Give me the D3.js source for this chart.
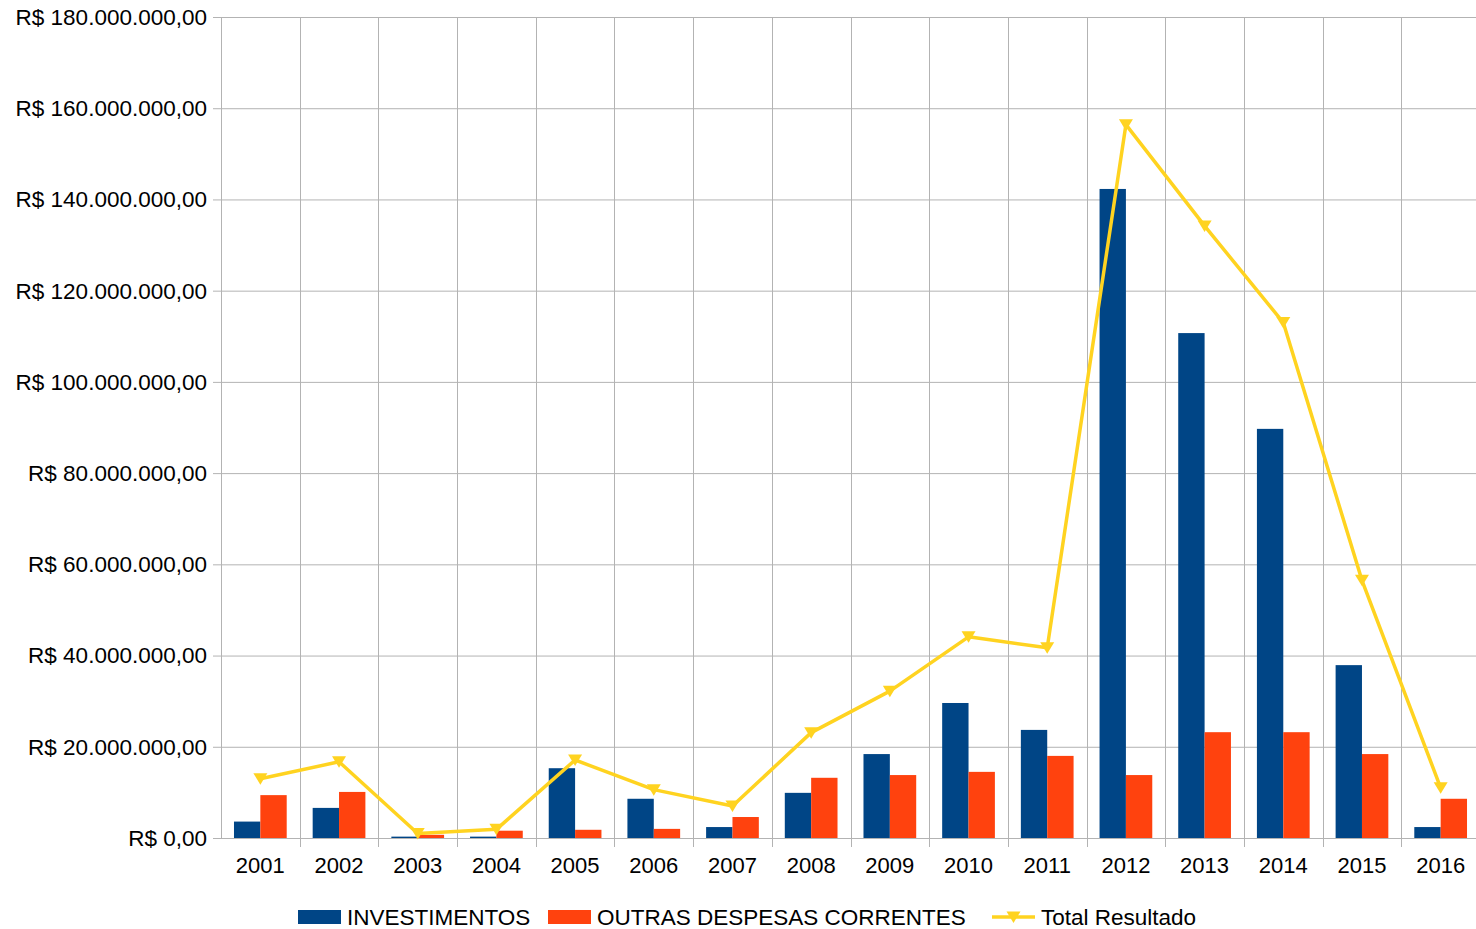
<!DOCTYPE html>
<html>
<head>
<meta charset="utf-8">
<script src="https://cdn.jsdelivr.net/npm/d3@7"></script>
<style>
  body { margin: 0; background: #fff; overflow: hidden; }
  text { font-family: "Liberation Sans", Arial, sans-serif; fill: #000; }
</style>
</head>
<body>
<div id="chart-container"></div>
<script>
// chart data (R$)
const years = ["2001","2002","2003","2004","2005","2006","2007","2008",
  "2009","2010","2011","2012","2013","2014","2015","2016"];
const investimentos = [3.6e6, 6.6e6, 0.3e6, 0.3e6, 15.3e6, 8.6e6, 2.4e6, 9.9e6,
  18.4e6, 29.6e6, 23.7e6, 142.3e6, 110.7e6, 89.7e6, 37.9e6, 2.4e6];
const outrasDespesas = [9.4e6, 10.1e6, 0.7e6, 1.6e6, 1.8e6, 2.0e6, 4.6e6, 13.2e6,
  13.8e6, 14.5e6, 18.0e6, 13.8e6, 23.2e6, 23.2e6, 18.4e6, 8.6e6];
const totalResultado = [13.0e6, 16.7e6, 1.0e6, 1.9e6, 17.1e6, 10.6e6, 7.0e6, 23.1e6,
  32.2e6, 44.1e6, 41.7e6, 156.4e6, 134.2e6, 113.0e6, 56.5e6, 11.0e6];
const yTicks = [0, 20e6, 40e6, 60e6, 80e6, 100e6, 120e6, 140e6, 160e6, 180e6];
const seriesNames = ["INVESTIMENTOS", "OUTRAS DESPESAS CORRENTES", "Total Resultado"];
const colors = ["#004586", "#ff420e", "#ffd320"];

const W = 1476, H = 929;
const margin = { top: 17, left: 221 };
const width = 1259;   // plot runs a little past the window edge
const height = 821;

const svg = d3.select("#chart-container").append("svg")
  .attr("width", W).attr("height", H)
  .style("display", "block");
const g = svg.append("g").attr("transform", `translate(${margin.left},${margin.top})`);

const x = d3.scaleBand().domain(years).range([0, width]);
const bw = x.bandwidth();
const gap = bw * 0.165;
const x1 = d3.scaleBand().domain([0, 1]).range([gap, bw - gap]);
const y = d3.scaleLinear().domain([0, 180e6]).range([height, 0]);

// number format pt-BR
const fmt = v => "R$ " + d3.format(",.2f")(v).replace(/,/g, "#").replace(".", ",").replace(/#/g, ".");

// horizontal grid
g.append("g").selectAll("line").data(yTicks).join("line")
  .attr("x1", -8).attr("x2", width)
  .attr("y1", d => y(d) + 0.5).attr("y2", d => y(d) + 0.5)
  .attr("stroke", "#b3b3b3").attr("stroke-width", 1);

// vertical grid (category boundaries)
const bounds = years.map(d => x(d));
g.append("g").selectAll("line").data(bounds).join("line")
  .attr("x1", d => Math.round(d) + 0.5).attr("x2", d => Math.round(d) + 0.5)
  .attr("y1", 0).attr("y2", d => d === 0 ? height + 1 : height + 9)
  .attr("stroke", "#b3b3b3").attr("stroke-width", 1);

// y labels
g.append("g").selectAll("text").data(yTicks).join("text")
  .attr("x", -14).attr("y", d => y(d)).attr("dy", "0.35em")
  .attr("text-anchor", "end").style("font-size", "22.5px")
  .text(fmt);

// x labels
g.append("g").selectAll("text").data(years).join("text")
  .attr("x", d => x(d) + bw / 2).attr("y", height + 35)
  .attr("text-anchor", "middle").style("font-size", "22px")
  .text(d => d);

// bars
const barData = years.map((yr, i) => [
  { yr, s: 0, v: investimentos[i] },
  { yr, s: 1, v: outrasDespesas[i] }
]).flat();
g.append("g").selectAll("rect").data(barData).join("rect")
  .attr("x", d => x(d.yr) + x1(d.s))
  .attr("width", x1.bandwidth())
  .attr("y", d => y(d.v))
  .attr("height", d => height - y(d.v))
  .attr("fill", d => colors[d.s]);

// total line
const line = d3.line()
  .x((d, i) => x(years[i]) + bw / 2)
  .y(d => y(d));
g.append("path").datum(totalResultado)
  .attr("d", line)
  .attr("fill", "none")
  .attr("stroke", colors[2])
  .attr("stroke-width", 3.5)
  .attr("stroke-linejoin", "round");

const tri = "M-7,-5.5L7,-5.5L0,6Z";
g.append("g").selectAll("path").data(totalResultado).join("path")
  .attr("transform", (d, i) => `translate(${x(years[i]) + bw / 2},${y(d)})`)
  .attr("d", tri)
  .attr("fill", colors[2]);

// legend
const legendY = 917;
const legendItems = [
  { x: 298, text: seriesNames[0], c: colors[0], type: "rect" },
  { x: 548, text: seriesNames[1], c: colors[1], type: "rect" },
  { x: 992, text: seriesNames[2], c: colors[2], type: "line" }
];
const lg = svg.append("g");
legendItems.forEach(it => {
  if (it.type === "rect") {
    lg.append("rect").attr("x", it.x).attr("y", legendY - 7)
      .attr("width", 43).attr("height", 14).attr("fill", it.c);
  } else {
    lg.append("line").attr("x1", it.x).attr("x2", it.x + 43)
      .attr("y1", legendY).attr("y2", legendY)
      .attr("stroke", it.c).attr("stroke-width", 3.5);
    lg.append("path").attr("transform", `translate(${it.x + 21.5},${legendY})`)
      .attr("d", tri).attr("fill", it.c);
  }
  lg.append("text").attr("x", it.x + 49).attr("y", legendY).attr("dy", "0.35em")
    .style("font-size", "22.5px").text(it.text);
});
</script>
</body>
</html>
